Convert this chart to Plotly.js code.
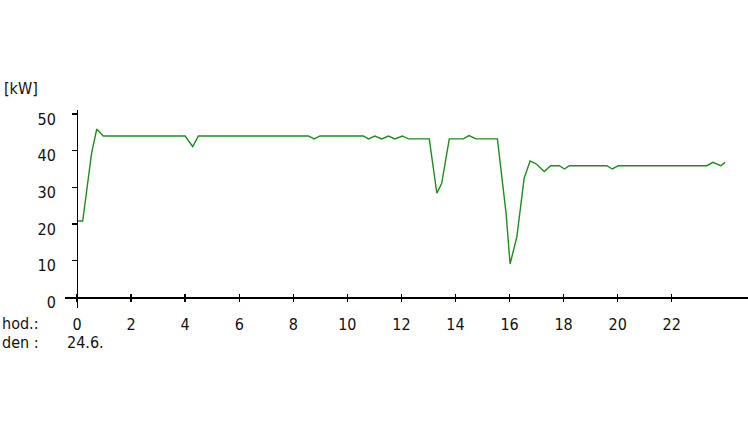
<!DOCTYPE html>
<html>
<head>
<meta charset="utf-8">
<script src="https://cdn.plot.ly/plotly-3.0.1.min.js"></script>
<style>
html,body{margin:0;padding:0;background:#fff;}
#chart{width:748px;height:421px;}
</style>
</head>
<body>
<div id="chart"></div>
<script>
// Time of day (hours) and power (kW)
const hours = [0, 0.21, 0.54, 0.73, 0.97, 4.0, 4.28, 4.49, 8.56, 8.77, 8.99,
  10.59, 10.78, 11.02, 11.27, 11.52, 11.76, 12.03, 12.26, 13.03, 13.31, 13.49,
  13.77, 14.29, 14.5, 14.76, 15.55, 15.87, 16.02, 16.27, 16.54, 16.76, 16.98,
  17.28, 17.52, 17.84, 18.03, 18.21, 19.6, 19.8, 20.03, 23.3, 23.52, 23.81, 23.97];
const powerKW = [20.8, 20.8, 39.3, 45.9, 44.0, 44.0, 41.1, 44.0, 44.0, 43.2, 44.0,
  44.0, 43.2, 44.0, 43.2, 44.0, 43.2, 44.0, 43.2, 43.2, 28.4, 31.1,
  43.2, 43.2, 44.1, 43.2, 43.2, 23.0, 9.1, 16.5, 32.5, 37.2, 36.4,
  34.3, 35.9, 35.9, 35.0, 35.9, 35.9, 35.0, 35.9, 35.9, 36.8, 35.9, 36.8];
const xTicks = [0, 2, 4, 6, 8, 10, 12, 14, 16, 18, 20, 22];
const yTicks = [0, 10, 20, 30, 40, 50];
const unitLabel = '[kW]';
const hourLabel = 'hod.:';
const dayLabel = 'den :';
const dateLabel = '24.6.';

const FONT = '"Liberation Sans Narrow", "DejaVu Sans Condensed", "Arial Narrow", sans-serif';
const FS = 16;

const trace = {
  x: hours, y: powerKW, type: 'scatter', mode: 'lines',
  line: {color: '#1f8c1f', width: 1.4},
  hoverinfo: 'skip', showlegend: false
};
const ghost = {x: [0], y: [0], xaxis: 'x2', yaxis: 'y', mode: 'none', showlegend: false, hoverinfo: 'skip'};

const xRange = [-0.444, 24.82];
const yRange = [-2.92, 51.09];
const yPos = (0 - xRange[0]) / (xRange[1] - xRange[0]);
const xPos = (0 - yRange[0]) / (yRange[1] - yRange[0]);

const layout = {
  width: 748, height: 421,
  margin: {l: 65, r: 0, t: 110, b: 113, pad: 0},
  paper_bgcolor: '#fff', plot_bgcolor: '#fff',
  font: {family: FONT, size: FS, color: '#111'},
  xaxis: {
    range: xRange, anchor: 'free', position: xPos,
    tickmode: 'array', tickvals: xTicks, ticktext: xTicks.map(String),
    showgrid: false, zeroline: false, showline: true, linecolor: '#000', linewidth: 1.3,
    ticks: 'outside', ticklen: 3, tickwidth: 1.3, tickcolor: '#000',
    ticklabelstandoff: 9, tickfont: {family: FONT, size: FS, color: '#111'}
  },
  xaxis2: {
    range: xRange, overlaying: 'x', anchor: 'free', position: xPos,
    tickmode: 'array', tickvals: xTicks, showticklabels: false,
    showgrid: false, zeroline: false, showline: false,
    ticks: 'inside', ticklen: 3, tickwidth: 1.3, tickcolor: '#000'
  },
  yaxis: {
    range: yRange, anchor: 'free', position: yPos,
    tickmode: 'array', tickvals: yTicks, ticktext: yTicks.map(String),
    showgrid: false, zeroline: false, showline: true, linecolor: '#000', linewidth: 1.3,
    ticks: 'outside', ticklen: 5, tickwidth: 1.3, tickcolor: '#000',
    ticklabelstandoff: 13, ticklabelshift: 5,
    tickfont: {family: FONT, size: FS, color: '#111'}
  },
  annotations: [
    {text: unitLabel, xref: 'paper', yref: 'paper', x: -0.0927, y: 1.111, xanchor: 'left', yanchor: 'middle', showarrow: false, font: {family: FONT, size: FS, color: '#111'}},
    {text: hourLabel, xref: 'paper', yref: 'paper', x: -0.0952, y: -0.0758, xanchor: 'left', yanchor: 'middle', showarrow: false, font: {family: FONT, size: FS, color: '#111'}},
    {text: dayLabel, xref: 'paper', yref: 'paper', x: -0.0952, y: -0.172, xanchor: 'left', yanchor: 'middle', showarrow: false, font: {family: FONT, size: FS, color: '#111'}},
    {text: dateLabel, xref: 'paper', yref: 'paper', x: 0.0, y: -0.172, xanchor: 'left', yanchor: 'middle', showarrow: false, font: {family: FONT, size: FS, color: '#111'}}
  ]
};

Plotly.newPlot('chart', [trace, ghost], layout, {staticPlot: true, displayModeBar: false});
</script>
</body>
</html>
